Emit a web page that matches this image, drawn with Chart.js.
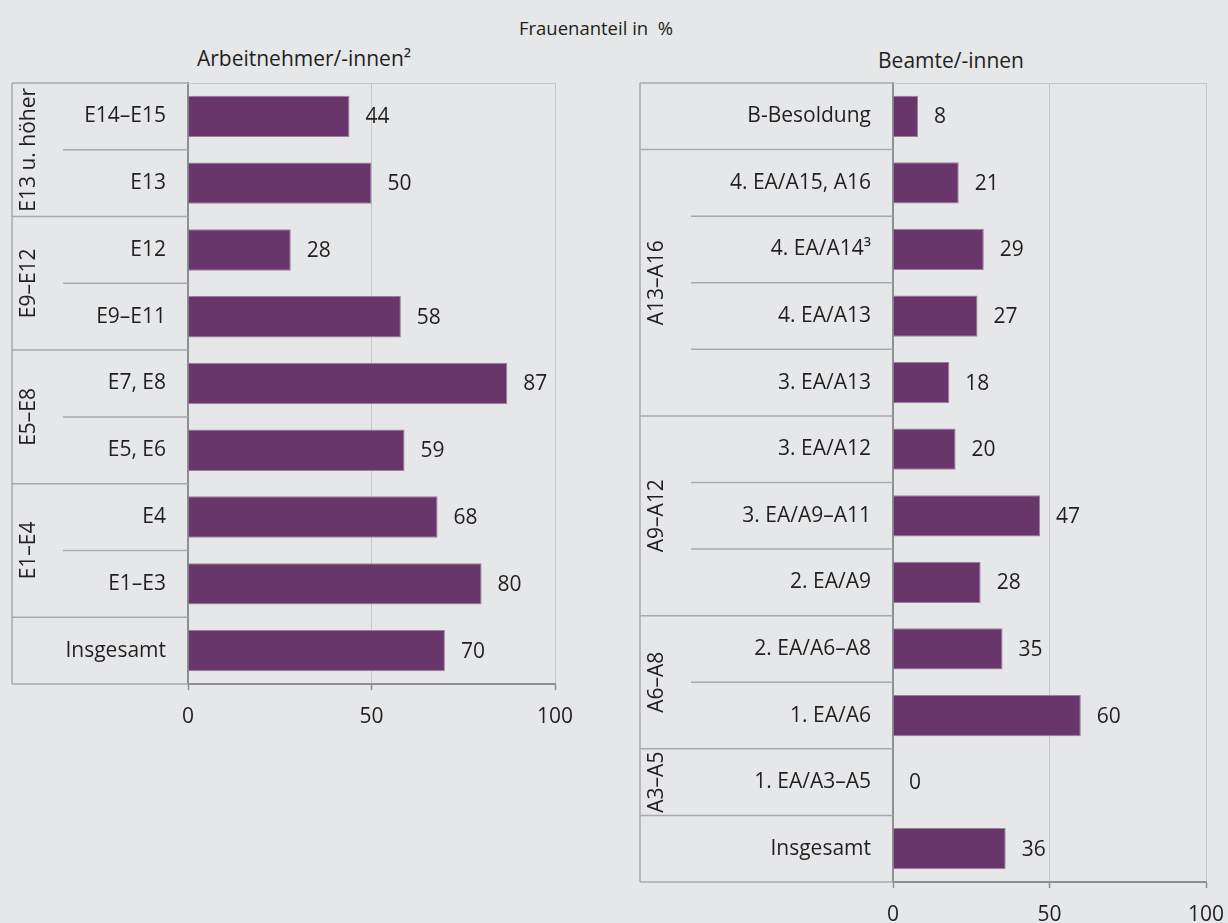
<!DOCTYPE html>
<html>
<head>
<meta charset="utf-8">
<script src="https://cdn.jsdelivr.net/npm/chart.js@4.4.1/dist/chart.umd.min.js"></script>
<style>
  body { margin: 0; background: #e6e7e9; width: 1228px; height: 923px; overflow: hidden; position: relative;
         font-family: "Open Sans", sans-serif; color: #231f20; }
  .t { position: absolute; white-space: nowrap; transform: translate(-50%, -50%); }
  #left { position: absolute; left: 0; top: 0; }
  #right { position: absolute; left: 614px; top: 0; }
</style>
</head>
<body>
<div class="t" style="left:596px;top:27px;font-size:18.5px">Frauenanteil in&nbsp; %</div>
<div class="t" style="left:304px;top:58px;font-size:21px">Arbeitnehmer/-innen²</div>
<div class="t" style="left:951px;top:60px;font-size:21px">Beamte/-innen</div>
<canvas id="left" width="614" height="740"></canvas>
<canvas id="right" width="640" height="923"></canvas>
<script>
// Arbeitnehmer/-innen
const leftLabels = ['E14–E15', 'E13', 'E12', 'E9–E11', 'E7, E8', 'E5, E6', 'E4', 'E1–E3', 'Insgesamt'];
const leftValues = [44, 50, 28, 58, 87, 59, 68, 80, 70];
const leftGroupNames = ['E13 u. höher', 'E9–E12', 'E5–E8', 'E1–E4'];
const leftGroupRows = [[0, 1], [2, 3], [4, 5], [6, 7]];

// Beamte/-innen
const rightLabels = ['B-Besoldung', '4. EA/A15, A16', '4. EA/A14³', '4. EA/A13', '3. EA/A13', '3. EA/A12',
  '3. EA/A9–A11', '2. EA/A9', '2. EA/A6–A8', '1. EA/A6', '1. EA/A3–A5', 'Insgesamt'];
const rightValues = [8, 21, 29, 27, 18, 20, 47, 28, 35, 60, 0, 36];
const rightGroupNames = ['A13–A16', 'A9–A12', 'A6–A8', 'A3–A5'];
const rightGroupRows = [[1, 4], [5, 7], [8, 9], [10, 10]];

const xTicks = [0, 50, 100];

const TEXT = '#231f20';
const BAR = '#68366a';
const BOXLINE = '#a9aaac';
const GRID = '#c6c7c9';
const AXIS = '#8e8f91';
const FONT = '"Open Sans", sans-serif';

// draws the label box, row separators, group labels and value labels
const decor = {
  id: 'decor',
  beforeDatasetsDraw(chart) {
    const ctx = chart.ctx, a = chart.chartArea;
    ctx.save();
    ctx.strokeStyle = GRID; ctx.lineWidth = 1;
    ctx.beginPath(); ctx.moveTo(a.left, a.top + 0.5); ctx.lineTo(a.right, a.top + 0.5); ctx.stroke();
    ctx.restore();
  },
  afterDatasetsDraw(chart) {
    const ctx = chart.ctx, x = chart.scales.x;
    const ds = chart.data.datasets[0];
    ctx.save();
    ctx.font = '21px ' + FONT; ctx.fillStyle = TEXT;
    ctx.textAlign = 'left'; ctx.textBaseline = 'middle';
    chart.getDatasetMeta(0).data.forEach((bar, i) => {
      ctx.fillText(String(ds.data[i]), x.getPixelForValue(ds.data[i]) + 16, bar.y + 1);
    });
    ctx.restore();
  },
  afterDraw(chart, args, opts) {
    const ctx = chart.ctx, a = chart.chartArea, y = chart.scales.y;
    const boxLeft = a.left - opts.boxWidth;
    const n = chart.data.labels.length;
    const rowGroup = new Array(n).fill(-1);
    opts.rows.forEach((r, g) => { for (let i = r[0]; i <= r[1]; i++) rowGroup[i] = g; });
    const half = (y.getPixelForValue(1) - y.getPixelForValue(0)) / 2;
    ctx.save();
    ctx.strokeStyle = BOXLINE; ctx.lineWidth = 1.5;
    ctx.beginPath();
    ctx.moveTo(boxLeft, a.top); ctx.lineTo(a.left, a.top);
    ctx.moveTo(boxLeft, a.top); ctx.lineTo(boxLeft, a.bottom);
    ctx.moveTo(boxLeft, a.bottom); ctx.lineTo(a.left, a.bottom);
    for (let i = 0; i < n - 1; i++) {
      const yy = y.getPixelForValue(i) + half;
      const same = rowGroup[i] >= 0 && rowGroup[i] === rowGroup[i + 1];
      ctx.moveTo(same ? boxLeft + 51 : boxLeft, yy); ctx.lineTo(a.left, yy);
    }
    ctx.stroke();
    ctx.font = '21px ' + FONT; ctx.fillStyle = TEXT;
    ctx.textAlign = 'center'; ctx.textBaseline = 'middle';
    opts.names.forEach((name, g) => {
      const r = opts.rows[g];
      const cy = (y.getPixelForValue(r[0]) + y.getPixelForValue(r[1])) / 2;
      ctx.save();
      ctx.translate(boxLeft + 17, cy);
      ctx.rotate(-Math.PI / 2);
      ctx.fillText(name, 0, 0);
      ctx.restore();
    });
    ctx.restore();
  }
};

function makeChart(id, labels, values, names, rows, pad, yWidth, xHeight) {
  return new Chart(document.getElementById(id), {
    type: 'bar',
    data: {
      labels: labels,
      datasets: [{
        data: values,
        backgroundColor: BAR,
        borderColor: '#9c7f9d',
        borderWidth: 1,
        borderSkipped: 'start',
        barPercentage: 0.62,
        categoryPercentage: 1
      }]
    },
    options: {
      indexAxis: 'y',
      responsive: false,
      animation: false,
      layout: { padding: pad },
      plugins: {
        legend: { display: false },
        tooltip: { enabled: false },
        decor: { boxWidth: yWidth, names: names, rows: rows }
      },
      scales: {
        x: {
          min: 0, max: 100,
          afterBuildTicks: s => { s.ticks = xTicks.map(v => ({ value: v })); },
          afterFit: s => { s.height = xHeight; },
          grid: { color: GRID, lineWidth: 1, tickLength: 6, tickColor: AXIS, tickWidth: 1.5 },
          border: { color: AXIS, width: 2 },
          ticks: { color: TEXT, font: { family: FONT, size: 21 }, padding: 14, maxRotation: 0 }
        },
        y: {
          afterFit: s => { s.width = yWidth; },
          grid: { display: false, drawTicks: false },
          border: { color: AXIS, width: 2 },
          ticks: { color: TEXT, font: { family: FONT, size: 21 }, padding: 22, autoSkip: false }
        }
      }
    },
    plugins: [decor]
  });
}

makeChart('left', leftLabels, leftValues, leftGroupNames, leftGroupRows,
  { left: 12, top: 83, right: 59, bottom: 0 }, 176, 740 - 684);
makeChart('right', rightLabels, rightValues, rightGroupNames, rightGroupRows,
  { left: 26, top: 83, right: 48, bottom: 0 }, 253, 923 - 882);
</script>
</body>
</html>
